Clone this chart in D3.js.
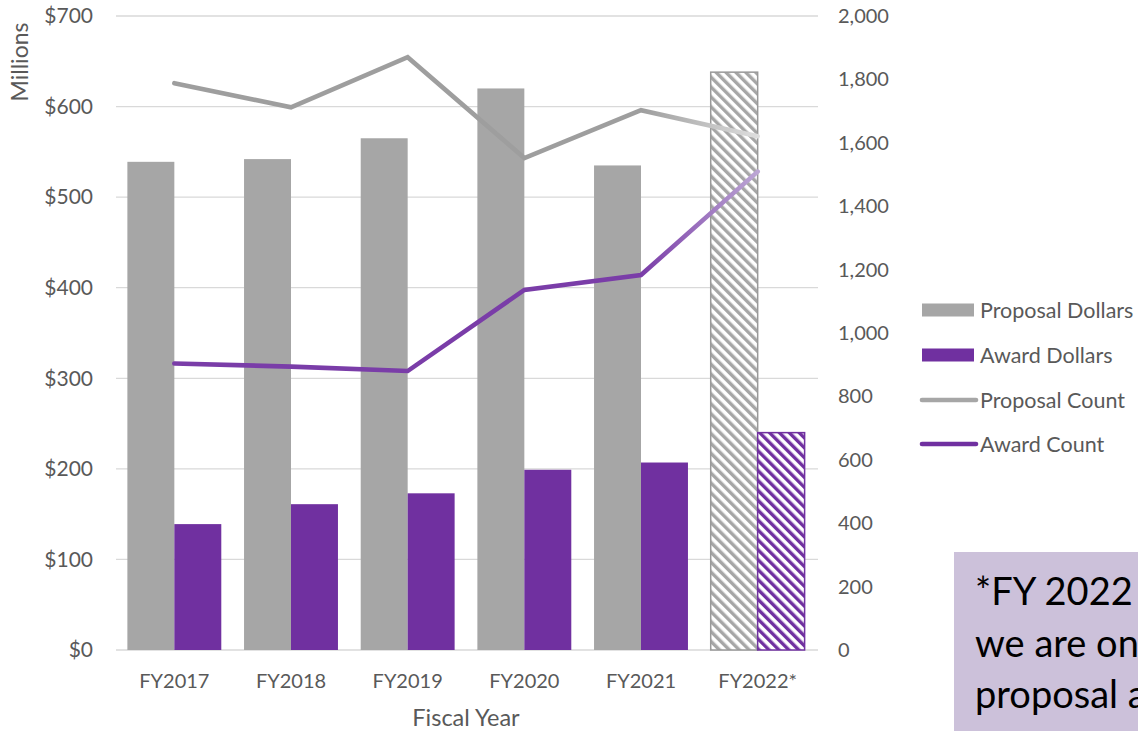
<!DOCTYPE html>
<html>
<head>
<meta charset="utf-8">
<script src="https://cdn.jsdelivr.net/npm/d3@7"></script>
<style>
  html, body { margin: 0; padding: 0; background: #fff; overflow: hidden; }
  svg text { font-family: Lato, "Open Sans", sans-serif; fill: #595959; }
</style>
</head>
<body>
<div id="chart"></div>
<script>
var categories = ["FY2017", "FY2018", "FY2019", "FY2020", "FY2021", "FY2022*"];
var proposalDollars = [539, 542, 565, 620, 535, 638];   // $ millions
var awardDollars = [139, 161, 173, 199, 207, 240];      // $ millions
var proposalCount = [1788, 1712, 1870, 1552, 1703, 1621];
var awardCount = [904, 894, 880, 1136, 1183, 1509];
var projected = [false, false, false, false, false, true];
var leftTicks = [0, 100, 200, 300, 400, 500, 600, 700];
var rightTicks = [0, 200, 400, 600, 800, 1000, 1200, 1400, 1600, 1800, 2000];
var legendNames = ["Proposal Dollars", "Award Dollars", "Proposal Count", "Award Count"];
var noteLines = ["*FY 2022 numbers are projected;", "we are on track for record", "proposal and award totals"];

var svgWidth = 1138;
var svgHeight = 731;
var plotLeft = 116, plotRight = 818, plotTop = 16, plotBottom = 650;
var grey = "#A6A6A6", purple = "#7030A0";

var svg = d3.select("#chart")
    .append("svg")
    .attr("width", svgWidth)
    .attr("height", svgHeight);

var defs = svg.append("defs");

// hatch fills for the projected year
function hatch(id, color) {
  var p = defs.append("pattern")
      .attr("id", id)
      .attr("patternUnits", "userSpaceOnUse")
      .attr("width", 7).attr("height", 7)
      .attr("patternTransform", "rotate(-45)");
  p.append("rect").attr("width", 7).attr("height", 7).attr("fill", "#fff");
  p.append("rect").attr("width", 3.4).attr("height", 7).attr("fill", color);
}
hatch("hatchGrey", grey);
hatch("hatchPurple", purple);

var xScale = d3.scaleBand()
    .domain(categories)
    .range([plotLeft, plotRight - 2])
    .paddingInner(0.195)
    .paddingOuter(0.0975);

var xSub = d3.scaleBand()
    .domain(["proposal", "award"])
    .range([0, xScale.bandwidth()]);

var yLeft = d3.scaleLinear().domain([0, 700]).range([plotBottom, plotTop]);
var yRight = d3.scaleLinear().domain([0, 2000]).range([plotBottom, plotTop]);

function cx(i) { return xScale(categories[i]) + xScale.bandwidth() / 2; }

// gradients that fade the last segment of each line
function fade(id, from, to) {
  var g = defs.append("linearGradient")
      .attr("id", id)
      .attr("gradientUnits", "userSpaceOnUse")
      .attr("x1", cx(4)).attr("y1", 0)
      .attr("x2", cx(5)).attr("y2", 0);
  g.append("stop").attr("offset", 0).attr("stop-color", from);
  g.append("stop").attr("offset", 1).attr("stop-color", to);
}
fade("fadeGrey", "#9E9E9E", "#DDDDDD");
fade("fadePurple", "#7A3DA8", "#BCA6D4");

// gridlines
svg.append("g")
    .selectAll("line")
    .data(leftTicks)
    .enter()
    .append("line")
    .attr("x1", plotLeft).attr("x2", plotRight)
    .attr("y1", function(d) { return yLeft(d); })
    .attr("y2", function(d) { return yLeft(d); })
    .attr("stroke", "#D9D9D9")
    .attr("stroke-width", 1.3);

// bars
var groups = svg.append("g")
    .selectAll("g")
    .data(categories)
    .enter()
    .append("g")
    .attr("transform", function(d) { return "translate(" + xScale(d) + ",0)"; });

groups.append("rect")
    .attr("x", xSub("proposal"))
    .attr("width", xSub.bandwidth())
    .attr("y", function(d, i) { return yLeft(proposalDollars[i]); })
    .attr("height", function(d, i) { return plotBottom - yLeft(proposalDollars[i]); })
    .attr("fill", function(d, i) { return projected[i] ? "url(#hatchGrey)" : grey; })
    .attr("stroke", function(d, i) { return projected[i] ? "#999" : "none"; })
    .attr("stroke-width", 1.5);

groups.append("rect")
    .attr("x", xSub("award"))
    .attr("width", xSub.bandwidth())
    .attr("y", function(d, i) { return yLeft(awardDollars[i]); })
    .attr("height", function(d, i) { return plotBottom - yLeft(awardDollars[i]); })
    .attr("fill", function(d, i) { return projected[i] ? "url(#hatchPurple)" : purple; })
    .attr("stroke", function(d, i) { return projected[i] ? purple : "none"; })
    .attr("stroke-width", 1.5);

// lines on the right axis
var line = d3.line()
    .x(function(d, i) { return cx(i); })
    .y(function(d) { return yRight(d); });

svg.append("path")
    .datum(proposalCount)
    .attr("d", line)
    .attr("fill", "none")
    .attr("stroke", "url(#fadeGrey)")
    .attr("stroke-width", 4.6)
    .attr("stroke-linecap", "round");

svg.append("path")
    .datum(awardCount)
    .attr("d", line)
    .attr("fill", "none")
    .attr("stroke", "url(#fadePurple)")
    .attr("stroke-width", 4.6)
    .attr("stroke-linecap", "round");

// axes
var yAxisLeft = d3.axisLeft(yLeft)
    .tickValues(leftTicks)
    .tickSize(0).tickPadding(23)
    .tickFormat(function(d) { return "$" + d; });

var yAxisRight = d3.axisRight(yRight)
    .tickValues(rightTicks)
    .tickSize(0).tickPadding(20)
    .tickFormat(d3.format(","));

var xAxis = d3.axisBottom(xScale)
    .tickSize(0).tickPadding(24);

var gLeft = svg.append("g")
    .attr("transform", "translate(" + plotLeft + ",0)")
    .call(yAxisLeft);

var gRight = svg.append("g")
    .attr("transform", "translate(" + plotRight + ",0)")
    .call(yAxisRight);

var gBottom = svg.append("g")
    .attr("transform", "translate(0," + plotBottom + ")")
    .call(xAxis);

svg.selectAll(".domain").remove();
svg.selectAll(".tick text")
    .style("font-size", "20px")
    .attr("fill", "#595959");
gLeft.selectAll(".tick text").style("font-size", "21px");

// axis titles
svg.append("text")
    .attr("transform", "translate(28,62) rotate(-90)")
    .attr("text-anchor", "middle")
    .style("font-size", "23px")
    .text("Millions");

svg.append("text")
    .attr("x", 466).attr("y", 726)
    .attr("text-anchor", "middle")
    .style("font-size", "23.5px")
    .text("Fiscal Year");

// legend
var legend = svg.append("g").attr("transform", "translate(922,0)");
var rowY = [310, 355, 400, 444];
legendNames.forEach(function(name, i) {
  var g = legend.append("g").attr("transform", "translate(0," + rowY[i] + ")");
  if (i < 2) {
    g.append("rect")
        .attr("x", 0).attr("y", -6.5)
        .attr("width", 52).attr("height", 13)
        .attr("fill", i === 0 ? grey : purple);
  } else {
    g.append("line")
        .attr("x1", 0).attr("x2", 54)
        .attr("stroke", i === 2 ? grey : purple)
        .attr("stroke-width", 4.6)
        .attr("stroke-linecap", "round");
  }
  g.append("text")
      .attr("x", 58).attr("dy", "0.35em")
      .style("font-size", "21.5px")
      .text(name);
});

// note box
svg.append("rect")
    .attr("x", 954).attr("y", 552)
    .attr("width", 200).attr("height", 200)
    .attr("fill", "#CCC1DA");

svg.selectAll(".note")
    .data(noteLines)
    .enter()
    .append("text")
    .attr("class", "note")
    .attr("x", 975)
    .attr("y", function(d, i) { return 605 + i * 51.5; })
    .style("font-size", "38px")
    .style("fill", "#000")
    .text(function(d) { return d; });
</script>
</body>
</html>
